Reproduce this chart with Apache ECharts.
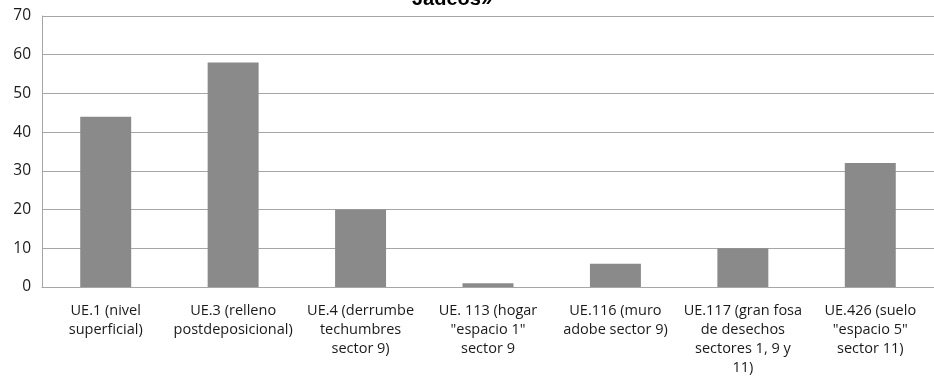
<!DOCTYPE html>
<html>
<head>
<meta charset="utf-8">
<script src="https://cdn.jsdelivr.net/npm/echarts@6/dist/echarts.min.js"></script>
<style>
  html, body { margin: 0; padding: 0; background: #fff; }
  #chart { width: 934px; height: 383px; }
</style>
</head>
<body>
<div id="chart"></div>
<script>
// Stratigraphic units (categories) and their counts
const categories = [
  'UE.1 (nivel\nsuperficial)',
  'UE.3 (relleno\npostdeposicional)',
  'UE.4 (derrumbe\ntechumbres\nsector 9)',
  'UE. 113 (hogar\n"espacio 1"\nsector 9',
  'UE.116 (muro\nadobe sector 9)',
  'UE.117 (gran fosa\nde desechos\nsectores 1, 9 y\n11)',
  'UE.426 (suelo\n"espacio 5"\nsector 11)'
];
const counts = [44, 58, 20, 1, 6, 10, 32];
const yTicks = [0, 10, 20, 30, 40, 50, 60, 70];

const chart = echarts.init(document.getElementById('chart'), null, { renderer: 'canvas' });

chart.setOption({
  animation: false,
  backgroundColor: '#ffffff',
  title: {
    text: 'Jadeos»',
    left: 447,
    textAlign: 'center',
    top: -16,
    textStyle: {
      fontFamily: 'Liberation Sans',
      fontWeight: 'bold',
      fontSize: 20,
      color: '#000'
    }
  },
  grid: { left: 42, right: 0, top: 16, bottom: 96, containLabel: false },
  xAxis: {
    type: 'category',
    data: categories,
    axisLine: { show: true, lineStyle: { color: '#a6a6a6', width: 1 } },
    axisTick: { show: false },
    axisLabel: {
      interval: 0,
      margin: 14,
      fontFamily: 'Open Sans',
      fontSize: 14.5,
      lineHeight: 19,
      color: '#1a1a1a'
    }
  },
  yAxis: {
    type: 'value',
    min: yTicks[0],
    max: yTicks[yTicks.length - 1],
    interval: 10,
    axisLine: { show: true, lineStyle: { color: '#a6a6a6', width: 1 } },
    axisTick: { show: false },
    splitLine: { lineStyle: { color: '#a6a6a6', width: 1 } },
    axisLabel: {
      margin: 11,
      fontFamily: 'Open Sans',
      fontSize: 15.5,
      color: '#1a1a1a'
    }
  },
  series: [{
    type: 'bar',
    data: counts,
    barWidth: '40%',
    itemStyle: { color: '#8a8a8a' }
  }]
});
</script>
</body>
</html>
